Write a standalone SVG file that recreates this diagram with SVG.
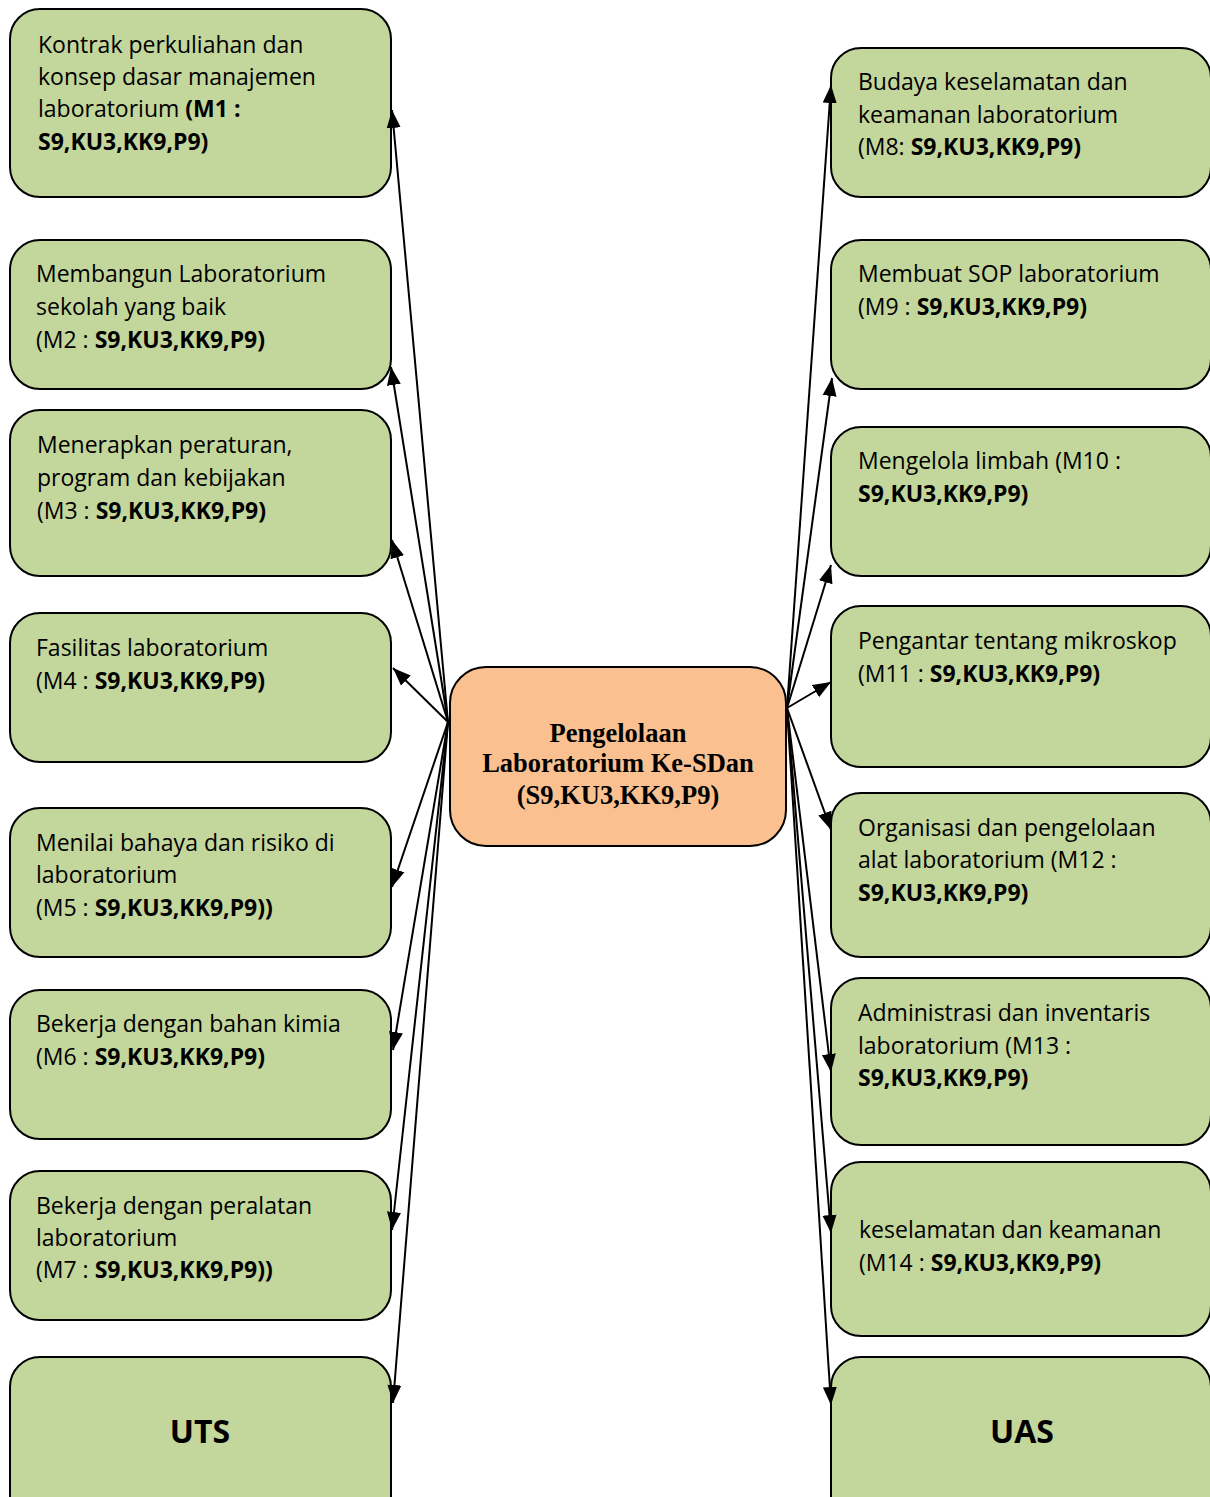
<svg xmlns="http://www.w3.org/2000/svg" width="1210" height="1497" viewBox="0 0 1210 1497">
<style>
.box{fill:#C3D69B;stroke:#000;stroke-width:2}
.ctr{fill:#FAC090;stroke:#000;stroke-width:2}
.t{font-family:"Open Sans","Liberation Sans",sans-serif;font-size:23px;fill:#000}
.b{font-weight:bold}
.big{font-family:"Open Sans","Liberation Sans",sans-serif;font-size:32px;font-weight:bold;text-anchor:middle}
.ct{font-family:"Liberation Serif","Times New Roman",serif;font-size:26.5px;font-weight:bold;text-anchor:middle}
.c{stroke:#000;stroke-width:2;fill:none;marker-end:url(#ah)}
</style>
<defs>
<marker id="ah" markerUnits="userSpaceOnUse" markerWidth="20" markerHeight="16" refX="18" refY="8" orient="auto">
<path d="M0,1 L18,8 L0,15 Z" fill="#000"/>
</marker>
</defs>
<rect width="1210" height="1497" fill="#fff"/>

<g id="m1"><rect class="box" x="10" y="9" width="381" height="188" rx="30"/>
<text class="t" x="38" y="53">Kontrak perkuliahan dan</text>
<text class="t" x="38" y="85">konsep dasar manajemen</text>
<text class="t" x="38" y="117">laboratorium <tspan class="b">(M1 :</tspan></text>
<text class="t b" x="38" y="150">S9,KU3,KK9,P9)</text></g>

<g id="m2"><rect class="box" x="10" y="240" width="381" height="149" rx="30"/>
<text class="t" x="36" y="282">Membangun Laboratorium</text>
<text class="t" x="36" y="315">sekolah yang baik</text>
<text class="t" x="36" y="348">(M2 : <tspan class="b">S9,KU3,KK9,P9)</tspan></text></g>

<g id="m3"><rect class="box" x="10" y="410" width="381" height="166" rx="30"/>
<text class="t" x="37" y="453">Menerapkan peraturan,</text>
<text class="t" x="37" y="486">program dan kebijakan</text>
<text class="t" x="37" y="519">(M3 : <tspan class="b">S9,KU3,KK9,P9)</tspan></text></g>

<g id="m4"><rect class="box" x="10" y="613" width="381" height="149" rx="30"/>
<text class="t" x="36" y="656">Fasilitas laboratorium</text>
<text class="t" x="36" y="689">(M4 : <tspan class="b">S9,KU3,KK9,P9)</tspan></text></g>

<g id="m5"><rect class="box" x="10" y="808" width="381" height="149" rx="30"/>
<text class="t" x="36" y="851">Menilai bahaya dan risiko di</text>
<text class="t" x="36" y="883">laboratorium</text>
<text class="t" x="36" y="916">(M5 : <tspan class="b">S9,KU3,KK9,P9))</tspan></text></g>

<g id="m6"><rect class="box" x="10" y="990" width="381" height="149" rx="30"/>
<text class="t" x="36" y="1032">Bekerja dengan bahan kimia</text>
<text class="t" x="36" y="1065">(M6 : <tspan class="b">S9,KU3,KK9,P9)</tspan></text></g>

<g id="m7"><rect class="box" x="10" y="1171" width="381" height="149" rx="30"/>
<text class="t" x="36" y="1214">Bekerja dengan peralatan</text>
<text class="t" x="36" y="1246">laboratorium</text>
<text class="t" x="36" y="1278">(M7 : <tspan class="b">S9,KU3,KK9,P9))</tspan></text></g>

<g id="uts"><rect class="box" x="10" y="1357" width="381" height="170" rx="30"/>
<text class="big" x="200" y="1443">UTS</text></g>

<g id="m8"><rect class="box" x="831" y="48" width="380" height="149" rx="30"/>
<text class="t" x="858" y="90">Budaya keselamatan dan</text>
<text class="t" x="858" y="123">keamanan laboratorium</text>
<text class="t" x="858" y="155">(M8: <tspan class="b">S9,KU3,KK9,P9)</tspan></text></g>

<g id="m9"><rect class="box" x="831" y="240" width="380" height="149" rx="30"/>
<text class="t" x="858" y="282">Membuat SOP laboratorium</text>
<text class="t" x="858" y="315">(M9 : <tspan class="b">S9,KU3,KK9,P9)</tspan></text></g>

<g id="m10"><rect class="box" x="831" y="427" width="380" height="149" rx="30"/>
<text class="t" x="858" y="469">Mengelola limbah (M10 :</text>
<text class="t b" x="858" y="502">S9,KU3,KK9,P9)</text></g>

<g id="m11"><rect class="box" x="831" y="606" width="380" height="161" rx="30"/>
<text class="t" x="858" y="649">Pengantar tentang mikroskop</text>
<text class="t" x="858" y="682">(M11 : <tspan class="b">S9,KU3,KK9,P9)</tspan></text></g>

<g id="m12"><rect class="box" x="831" y="793" width="380" height="164" rx="30"/>
<text class="t" x="858" y="836">Organisasi dan pengelolaan</text>
<text class="t" x="858" y="868">alat laboratorium (M12 :</text>
<text class="t b" x="858" y="901">S9,KU3,KK9,P9)</text></g>

<g id="m13"><rect class="box" x="831" y="978" width="380" height="167" rx="30"/>
<text class="t" x="858" y="1021">Administrasi dan inventaris</text>
<text class="t" x="858" y="1054">laboratorium (M13 :</text>
<text class="t b" x="858" y="1086">S9,KU3,KK9,P9)</text></g>

<g id="m14"><rect class="box" x="831" y="1162" width="380" height="174" rx="30"/>
<text class="t" x="859" y="1238">keselamatan dan keamanan</text>
<text class="t" x="859" y="1271">(M14 : <tspan class="b">S9,KU3,KK9,P9)</tspan></text></g>

<g id="uas"><rect class="box" x="831" y="1357" width="380" height="170" rx="30"/>
<text class="big" x="1022" y="1443">UAS</text></g>

<g id="center"><rect class="ctr" x="450" y="667" width="336" height="179" rx="36"/>
<text class="ct" x="618" y="742">Pengelolaan</text>
<text class="ct" x="618" y="772">Laboratorium Ke-SDan</text>
<text class="ct" x="618" y="804">(S9,KU3,KK9,P9)</text></g>

<g id="connectors">
<line class="c" x1="448" y1="722" x2="392" y2="110"/>
<line class="c" x1="448" y1="722" x2="391" y2="367"/>
<line class="c" x1="448" y1="722" x2="392" y2="540"/>
<line class="c" x1="448" y1="722" x2="393" y2="668"/>
<line class="c" x1="448" y1="722" x2="392" y2="887"/>
<line class="c" x1="448" y1="722" x2="393" y2="1050"/>
<line class="c" x1="448" y1="722" x2="392" y2="1230"/>
<line class="c" x1="448" y1="722" x2="393" y2="1403"/>
<line class="c" x1="787" y1="708" x2="831" y2="85"/>
<line class="c" x1="787" y1="708" x2="832" y2="378"/>
<line class="c" x1="787" y1="708" x2="831" y2="565"/>
<line class="c" x1="787" y1="708" x2="831" y2="682"/>
<line class="c" x1="787" y1="708" x2="831" y2="830"/>
<line class="c" x1="787" y1="708" x2="831" y2="1072"/>
<line class="c" x1="787" y1="708" x2="831" y2="1233"/>
<line class="c" x1="787" y1="708" x2="831" y2="1405"/>
</g>
</svg>
